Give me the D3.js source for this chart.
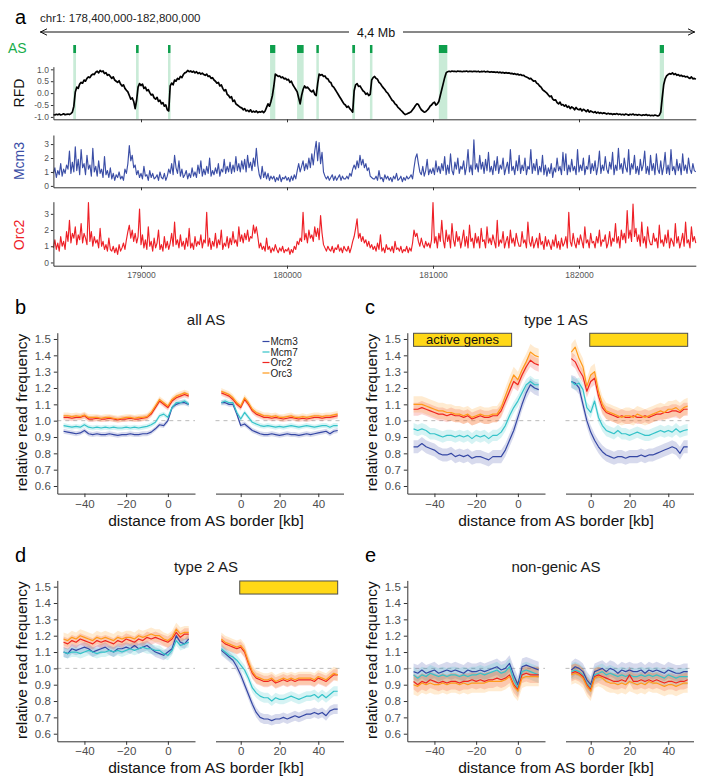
<!DOCTYPE html>
<html><head><meta charset="utf-8">
<script src="https://cdn.jsdelivr.net/npm/d3@7/dist/d3.min.js"></script>
<style>body{margin:0;background:#fff}svg{display:block}</style>
</head><body><svg id="chart" width="702" height="781"></svg>
<script>
// ===================== DATA =====================
// Panel a: genome tracks (kb positions, 10 kb bins starting at 178400 kb)
const trackStartKb = 178400, trackStepKb = 10;
const genomeTicks = [179000, 180000, 181000, 182000];
const asRegions = [[178536,178555],[178966,178984],[179185,179201],[179884,179920],[180069,180114],
  [180201,180217],[180447,180466],[180568,180584],[181040,181098],[182553,182582]];
const rfdTicks = [-1, -0.5, 0, 0.5, 1];
const countTicks = [0, 1, 2, 3];
const rfdTrack = [
-0.90,-0.92,-0.89,-0.91,-0.88,-0.92,-0.90,-0.87,-0.91,-0.89,
-0.88,-0.90,-0.86,-0.80,-0.55,0.05,0.25,0.20,0.38,0.45,
0.42,0.55,0.50,0.62,0.68,0.65,0.75,0.80,0.78,0.88,
0.92,0.85,0.95,0.90,0.93,0.82,0.86,0.75,0.78,0.70,
0.62,0.68,0.55,0.50,0.45,0.52,0.38,0.30,0.35,0.20,
0.12,0.05,-0.10,-0.25,-0.20,-0.35,-0.65,-0.30,0.25,0.40,
0.32,0.38,0.20,0.25,0.10,0.15,0.02,-0.08,-0.05,-0.20,
-0.25,-0.18,-0.35,-0.30,-0.45,-0.40,-0.55,-0.50,-0.70,-0.75,
0.30,0.42,0.35,0.55,0.50,0.62,0.58,0.70,0.65,0.78,
0.85,0.88,0.95,0.90,0.93,0.88,0.92,0.85,0.90,0.82,
0.86,0.80,0.84,0.78,0.75,0.80,0.70,0.72,0.62,0.65,
0.55,0.50,0.42,0.45,0.30,0.35,0.20,0.10,0.15,-0.05,
-0.10,-0.20,-0.15,-0.35,-0.30,-0.45,-0.50,-0.55,-0.60,-0.62,
-0.70,-0.65,-0.75,-0.72,-0.78,-0.70,-0.80,-0.76,-0.80,-0.75,
-0.82,-0.78,-0.80,-0.76,-0.82,-0.75,-0.60,-0.45,-0.55,-0.35,
-0.10,0.30,0.80,0.75,0.70,0.72,0.65,0.68,0.60,0.62,
0.55,0.58,0.45,0.50,0.35,0.25,0.15,0.05,-0.20,-0.45,
-0.10,0.15,0.30,0.22,0.25,0.18,0.10,0.05,0.12,-0.05,
-0.10,0.40,0.80,0.75,0.78,0.70,0.72,0.62,0.60,0.48,
0.45,0.30,0.25,0.15,0.05,-0.05,-0.15,-0.25,-0.35,-0.45,
-0.50,-0.60,-0.55,-0.65,-0.72,-0.80,0.10,0.35,0.40,0.28,
0.30,0.20,0.10,0.05,-0.05,0.00,-0.10,-0.05,0.55,0.65,
0.70,0.62,0.58,0.45,0.40,0.30,0.22,0.15,0.05,0.00,
-0.10,-0.20,-0.30,-0.35,-0.45,-0.50,-0.60,-0.65,-0.72,-0.78,
-0.85,-0.90,-0.88,-0.85,-0.82,-0.78,-0.70,-0.62,-0.52,-0.45,
-0.48,-0.60,-0.70,-0.75,-0.80,-0.78,-0.72,-0.65,-0.55,-0.50,
-0.42,-0.38,-0.50,-0.45,-0.35,-0.10,0.15,0.40,0.65,0.85,
0.90,0.92,0.90,0.93,0.91,0.92,0.90,0.93,0.91,0.92,
0.90,0.92,0.91,0.93,0.90,0.92,0.91,0.90,0.92,0.91,
0.90,0.92,0.89,0.91,0.90,0.92,0.89,0.91,0.90,0.88,
0.90,0.88,0.89,0.87,0.89,0.86,0.88,0.85,0.87,0.84,
0.86,0.84,0.85,0.82,0.83,0.80,0.82,0.78,0.80,0.76,
0.78,0.74,0.75,0.70,0.68,0.65,0.60,0.62,0.55,0.50,
0.52,0.42,0.38,0.30,0.25,0.15,0.10,0.05,0.00,-0.08,
-0.15,-0.12,-0.25,-0.30,-0.28,-0.40,-0.45,-0.38,-0.50,-0.48,
-0.55,-0.50,-0.60,-0.55,-0.65,-0.58,-0.62,-0.70,-0.60,-0.68,
-0.70,-0.65,-0.75,-0.68,-0.72,-0.78,-0.70,-0.80,-0.75,-0.78,
-0.82,-0.78,-0.84,-0.80,-0.85,-0.82,-0.86,-0.83,-0.85,-0.88,
-0.85,-0.88,-0.86,-0.90,-0.87,-0.89,-0.86,-0.90,-0.88,-0.91,
-0.89,-0.92,-0.88,-0.90,-0.93,-0.89,-0.91,-0.88,-0.92,-0.90,
-0.93,-0.90,-0.92,-0.94,-0.91,-0.93,-0.90,-0.94,-0.92,-0.95,
-0.93,-0.95,-0.92,-0.94,-0.96,-0.93,-0.80,-0.20,0.35,0.60,
0.72,0.78,0.82,0.80,0.85,0.78,0.82,0.75,0.78,0.72,
0.75,0.70,0.72,0.68,0.70,0.65,0.62,0.68,0.60,0.62,
0.58];
const mcm3Track = [
0.9,1.3,0.6,1.1,0.8,1.6,0.7,1.2,0.9,1.5,
1.2,2.5,0.9,1.7,1.0,2.8,1.1,1.9,0.8,2.6,
1.3,1.6,0.8,2.2,1.2,1.5,0.7,2.7,1.0,1.4,
0.7,1.8,0.9,1.2,0.6,2.1,0.8,1.1,0.6,1.3,
0.5,0.9,0.4,0.8,0.6,1.0,0.5,0.7,0.4,1.2,
0.9,1.6,2.9,1.8,2.2,1.3,1.5,0.8,1.1,0.6,
0.9,0.5,1.4,0.7,0.8,0.4,1.1,0.6,0.9,0.5,
0.6,0.8,0.4,1.0,0.6,0.5,0.9,0.4,0.7,1.2,
0.9,1.6,0.8,2.2,1.3,0.9,1.8,0.7,1.2,0.6,
0.8,1.1,0.5,0.9,0.6,1.3,0.7,1.0,0.6,1.5,
0.9,1.8,0.7,1.2,0.8,1.4,0.9,2.0,0.7,1.1,
0.8,1.3,0.9,1.6,0.7,1.2,1.0,1.9,0.9,1.4,
1.0,1.7,0.9,1.5,1.0,2.1,1.1,1.6,1.0,1.8,
1.2,1.9,1.0,2.2,1.3,1.7,1.1,2.0,1.4,2.7,
1.5,0.8,0.5,1.4,0.6,1.0,0.5,0.9,0.4,0.7,
0.5,0.7,0.3,0.6,0.4,0.8,0.3,0.6,0.5,0.7,
0.4,0.6,0.3,0.7,0.4,0.8,0.5,1.1,1.6,1.0,
1.4,1.8,1.1,1.6,1.2,2.0,1.3,2.3,1.5,2.5,
3.2,1.8,3.1,1.6,2.4,1.0,0.7,0.5,0.7,0.4,
0.6,0.8,0.4,0.7,0.4,0.6,0.8,0.4,0.7,0.5,
0.5,0.7,0.5,0.9,0.7,1.2,1.5,1.2,1.8,1.3,
2.2,1.5,1.9,1.3,1.6,1.1,1.3,0.7,0.6,0.5,
0.5,0.7,0.4,1.1,0.5,0.6,0.3,0.8,0.5,0.7,
0.4,0.6,0.3,0.7,0.5,0.9,0.4,0.5,0.7,0.3,
0.6,0.4,0.7,0.5,0.6,0.8,0.5,1.3,2.0,2.3,
1.6,1.0,0.8,1.4,0.7,1.1,1.9,0.8,1.2,0.9,
1.3,0.8,1.8,1.0,1.4,0.9,1.6,1.1,2.1,0.8,
1.5,0.9,2.3,1.1,0.8,1.7,1.2,2.0,0.9,1.4,
1.2,1.8,0.8,1.4,2.6,1.0,1.5,0.8,3.3,1.2,
1.6,1.0,2.2,1.2,1.7,0.9,1.9,1.1,2.4,1.0,
1.4,0.8,1.8,1.1,2.1,0.9,1.5,1.2,2.0,0.8,
1.3,1.7,0.9,2.6,1.1,1.4,0.8,1.8,1.1,2.2,
0.9,1.5,1.1,2.0,0.8,1.4,1.2,2.6,0.9,1.6,
1.1,1.9,0.8,1.4,1.0,2.2,0.8,1.5,0.7,1.3,
0.9,1.6,0.6,1.3,1.0,2.0,1.1,1.4,0.8,2.4,
1.1,2.3,0.8,1.5,1.0,1.9,1.1,1.4,0.8,2.6,
1.0,1.5,1.1,2.0,0.8,1.4,1.2,2.2,0.9,1.6,
1.1,1.8,0.8,1.4,2.5,0.9,1.5,1.1,2.1,1.2,
0.9,1.7,1.2,2.4,0.8,1.5,1.1,2.7,1.2,1.6,
0.9,2.0,1.3,1.0,2.6,0.8,1.6,1.2,2.2,0.9,
1.4,0.8,1.9,1.1,1.5,2.5,0.9,1.4,0.8,2.2,
1.1,1.6,0.8,2.3,1.2,0.9,1.8,0.8,1.4,2.4,
0.9,1.5,0.8,2.6,1.1,1.4,0.8,1.9,1.1,1.6,
0.8,2.3,1.1,1.5,0.9,2.0,1.2,0.9,1.6,1.1,
1.0];
const orc2Track = [
0.9,1.4,0.8,1.2,0.7,1.6,1.0,1.3,0.8,1.9,
1.3,2.6,1.2,1.8,1.5,2.2,1.1,1.7,1.4,2.4,
1.2,1.8,1.5,1.1,3.7,1.3,1.9,1.0,1.6,1.2,
1.4,0.9,2.1,1.0,1.3,0.8,1.1,0.7,1.5,0.8,
0.7,1.0,0.6,0.9,0.5,1.1,0.7,0.9,1.2,0.8,
1.4,1.9,2.3,1.5,2.0,1.3,1.8,1.2,1.6,3.3,
1.1,1.7,0.9,1.4,0.8,2.2,1.0,1.3,0.7,1.5,
0.9,1.2,2.0,0.8,1.1,0.7,1.6,0.9,1.3,0.8,
1.2,1.8,1.0,2.5,1.1,1.4,0.9,1.7,1.0,1.3,
0.8,1.5,1.0,2.1,0.9,1.2,0.8,1.6,1.0,1.3,
1.1,1.7,0.9,1.4,1.2,3.1,1.0,1.5,0.8,1.3,
1.0,1.8,0.9,1.4,1.1,2.0,0.8,1.2,1.0,1.6,
0.9,1.5,1.1,1.9,1.2,1.4,1.0,2.2,1.3,1.7,
1.2,1.8,1.4,2.0,1.3,1.6,1.5,2.3,1.8,2.2,
1.6,0.9,1.2,0.8,1.0,0.7,1.5,0.8,1.0,0.6,
0.9,0.7,1.1,0.8,0.6,0.9,0.7,1.0,0.6,0.8,
0.7,0.9,0.5,0.8,0.6,1.0,0.8,1.3,1.1,1.5,
1.3,3.1,1.4,1.8,1.2,2.0,1.5,1.7,1.3,2.2,
1.6,2.1,1.4,2.9,1.8,1.1,0.9,0.7,1.0,0.8,
0.7,1.0,0.6,0.9,0.8,1.1,0.7,0.9,0.6,1.0,
0.8,0.7,1.0,0.6,0.9,1.3,1.6,2.1,2.7,1.5,
1.8,1.3,1.6,1.2,1.4,1.0,1.3,0.9,1.1,0.8,
1.0,0.7,1.2,0.8,1.7,0.7,0.9,0.6,1.1,0.8,
0.9,0.7,1.0,0.6,1.3,0.8,0.9,0.7,1.0,0.6,
0.8,0.7,1.0,0.6,0.9,0.7,1.2,2.0,1.6,1.8,
1.3,1.0,1.5,1.1,0.9,1.3,1.0,1.2,0.9,1.4,
3.7,1.2,1.6,0.9,1.8,1.3,2.6,1.4,0.9,2.0,
1.3,1.7,0.9,2.4,1.4,1.0,1.9,1.3,1.6,0.9,
1.4,2.0,1.0,1.6,0.9,2.3,1.3,1.5,0.9,1.8,
1.2,1.6,0.9,2.1,1.3,1.4,0.9,2.2,1.2,1.5,
1.1,1.7,1.3,0.9,2.6,1.0,1.4,1.2,1.9,0.9,
1.3,1.6,0.9,2.0,1.2,1.5,1.0,1.8,1.3,1.0,
1.0,1.9,1.2,1.4,0.9,2.5,1.3,1.0,1.6,0.9,
1.2,1.5,0.9,1.8,1.1,1.3,0.8,1.6,1.0,1.4,
1.1,0.8,1.4,1.0,1.7,0.9,1.3,0.8,1.5,1.0,
1.2,1.6,0.9,3.1,1.3,1.0,1.8,1.2,0.9,1.5,
1.1,1.7,1.3,0.9,2.2,1.2,1.4,0.9,1.8,1.2,
1.3,0.9,1.6,1.2,2.0,1.0,1.4,1.3,1.7,0.9,
1.2,1.9,1.0,1.5,1.3,2.4,1.2,1.6,0.9,2.0,
1.4,1.8,1.2,3.2,1.5,2.0,1.3,3.6,1.6,2.1,
1.3,1.7,1.0,2.5,1.2,1.6,0.9,2.2,1.4,1.1,
1.1,1.8,1.3,1.5,0.9,2.3,1.2,1.4,1.0,1.7,
1.2,2.0,0.9,1.5,1.3,1.0,2.4,1.2,1.6,0.9,
1.3,1.8,1.0,2.5,1.2,1.4,0.9,2.2,1.3,1.6,
1.2];

// Panels b-e: profiles around AS borders (kb)
const seriesNames = ["Mcm3", "Mcm7", "Orc2", "Orc3"];
const leftKb  = [-50,-48,-46,-44,-42,-40,-38,-36,-34,-32,-30,-28,-26,-24,-22,-20,-18,-16,-14,-12,-10,-8,-6,-4,-2,0,2,4,6,8,10];
const rightKb = [-10,-8,-6,-4,-2,0,2,4,6,8,10,12,14,16,18,20,22,24,26,28,30,32,34,36,38,40,42,44,46,48,50];
const profileYTicks = [0.6,0.7,0.8,0.9,1.0,1.1,1.2,1.3,1.4,1.5];
const leftXTicks = [-40,-20,0], rightXTicks = [0,20,40];

const bL_Mcm3 = [0.935,0.93,0.925,0.92,0.925,0.94,0.92,0.915,0.92,0.915,0.915,0.92,0.915,0.91,0.915,0.915,0.92,0.915,0.915,0.92,0.92,0.93,0.95,0.975,0.97,1.00,1.08,1.10,1.11,1.11,1.10];
const bL_Mcm7 = [0.97,0.965,0.96,0.965,0.96,0.975,0.96,0.955,0.96,0.955,0.96,0.955,0.96,0.955,0.955,0.96,0.955,0.96,0.955,0.96,0.965,0.975,0.99,1.03,1.04,1.02,1.08,1.11,1.11,1.12,1.10];
const bL_Orc2 = [1.02,1.02,1.015,1.02,1.02,1.03,1.01,1.01,1.015,1.01,1.01,1.015,1.01,1.005,1.01,1.01,1.015,1.01,1.01,1.015,1.02,1.04,1.08,1.12,1.10,1.08,1.12,1.14,1.15,1.16,1.15];
const bL_Orc3 = [1.03,1.03,1.025,1.03,1.025,1.035,1.02,1.02,1.02,1.015,1.02,1.02,1.015,1.01,1.015,1.02,1.02,1.015,1.02,1.02,1.025,1.05,1.09,1.13,1.11,1.09,1.13,1.15,1.16,1.17,1.16];
const bR_Mcm3 = [1.11,1.11,1.10,1.10,1.04,0.97,0.98,0.96,0.94,0.93,0.92,0.915,0.915,0.92,0.915,0.91,0.915,0.92,0.915,0.915,0.91,0.915,0.92,0.915,0.92,0.925,0.93,0.935,0.92,0.935,0.94];
const bR_Mcm7 = [1.11,1.12,1.11,1.11,1.05,1.01,1.05,1.02,0.99,0.98,0.97,0.965,0.97,0.965,0.96,0.965,0.96,0.965,0.97,0.965,0.96,0.965,0.97,0.965,0.96,0.965,0.97,0.97,0.96,0.97,0.97];
const bR_Orc2 = [1.17,1.16,1.15,1.13,1.10,1.08,1.13,1.10,1.06,1.04,1.03,1.02,1.02,1.015,1.02,1.015,1.01,1.015,1.02,1.015,1.01,1.015,1.01,1.015,1.02,1.02,1.015,1.02,1.02,1.025,1.03];
const bR_Orc3 = [1.18,1.17,1.16,1.14,1.11,1.09,1.14,1.11,1.07,1.05,1.04,1.03,1.03,1.025,1.03,1.02,1.02,1.025,1.03,1.02,1.02,1.025,1.02,1.025,1.03,1.03,1.025,1.03,1.03,1.035,1.04];

const cL_Mcm3 = [0.84,0.84,0.86,0.84,0.83,0.82,0.80,0.79,0.79,0.80,0.78,0.79,0.78,0.79,0.77,0.78,0.78,0.77,0.76,0.78,0.78,0.78,0.82,0.88,0.94,1.02,1.10,1.17,1.22,1.20,1.19];
const cL_Mcm7 = [0.95,0.94,0.95,0.94,0.92,0.92,0.91,0.90,0.91,0.91,0.90,0.91,0.90,0.91,0.89,0.91,0.90,0.91,0.89,0.91,0.91,0.93,0.97,1.03,1.08,1.12,1.17,1.22,1.24,1.22,1.22];
const cL_Orc2 = [1.07,1.07,1.08,1.07,1.06,1.05,1.04,1.04,1.03,1.04,1.03,1.03,1.02,1.03,1.01,1.02,1.03,1.02,1.02,1.03,1.03,1.06,1.12,1.18,1.24,1.22,1.28,1.33,1.37,1.35,1.34];
const cL_Orc3 = [1.10,1.10,1.10,1.09,1.08,1.07,1.06,1.06,1.05,1.05,1.04,1.04,1.03,1.04,1.02,1.03,1.04,1.03,1.03,1.04,1.04,1.08,1.15,1.22,1.28,1.25,1.31,1.36,1.42,1.40,1.39];
const cR_Mcm3 = [1.24,1.23,1.20,1.10,1.00,0.93,0.88,0.84,0.81,0.79,0.78,0.77,0.78,0.78,0.77,0.78,0.78,0.78,0.79,0.78,0.79,0.79,0.80,0.81,0.82,0.83,0.84,0.83,0.80,0.84,0.84];
const cR_Mcm7 = [1.24,1.22,1.23,1.19,1.08,1.05,1.12,1.02,0.97,0.94,0.93,0.92,0.94,0.92,0.92,0.91,0.92,0.93,0.92,0.91,0.91,0.92,0.93,0.94,0.93,0.94,0.93,0.95,0.93,0.94,0.945];
const cR_Orc2 = [1.38,1.36,1.31,1.27,1.18,1.24,1.26,1.15,1.08,1.05,1.04,1.03,1.02,1.03,1.02,1.02,1.03,1.02,1.02,1.03,1.02,1.03,1.04,1.04,1.05,1.05,1.06,1.06,1.05,1.07,1.07];
const cR_Orc3 = [1.42,1.45,1.38,1.33,1.21,1.28,1.30,1.18,1.10,1.06,1.05,1.04,1.03,1.02,1.03,1.03,1.02,1.04,1.03,1.02,1.03,1.04,1.05,1.06,1.05,1.07,1.07,1.08,1.06,1.08,1.09];

const dL_Mcm3 = [1.10,1.09,1.12,1.11,1.12,1.13,1.12,1.10,1.11,1.12,1.13,1.11,1.10,1.12,1.12,1.13,1.12,1.14,1.12,1.13,1.14,1.12,1.10,1.09,1.08,1.10,1.12,1.20,1.16,1.15,1.18];
const dL_Mcm7 = [1.10,1.09,1.10,1.10,1.09,1.10,1.11,1.10,1.09,1.10,1.10,1.11,1.10,1.11,1.10,1.11,1.12,1.11,1.12,1.13,1.12,1.12,1.11,1.11,1.09,1.08,1.11,1.17,1.14,1.15,1.16];
const dL_Orc2 = [1.16,1.15,1.17,1.16,1.18,1.17,1.16,1.15,1.17,1.16,1.17,1.16,1.15,1.17,1.16,1.18,1.17,1.16,1.18,1.17,1.19,1.18,1.19,1.18,1.17,1.16,1.18,1.22,1.19,1.21,1.21];
const dL_Orc3 = [1.18,1.17,1.19,1.18,1.20,1.19,1.18,1.17,1.19,1.18,1.19,1.18,1.17,1.19,1.18,1.19,1.19,1.18,1.20,1.19,1.20,1.21,1.20,1.20,1.18,1.17,1.19,1.24,1.21,1.22,1.22];
const dR_Mcm3 = [1.11,1.09,1.07,1.05,1.01,0.96,0.90,0.84,0.78,0.73,0.70,0.69,0.69,0.68,0.69,0.69,0.70,0.69,0.70,0.71,0.70,0.71,0.72,0.72,0.73,0.72,0.73,0.71,0.74,0.75,0.75];
const dR_Mcm7 = [1.12,1.10,1.08,1.07,1.05,1.02,0.99,0.94,0.88,0.85,0.83,0.82,0.82,0.80,0.82,0.81,0.81,0.82,0.83,0.82,0.81,0.82,0.83,0.83,0.84,0.82,0.84,0.82,0.84,0.86,0.86];
const dR_Orc2 = [1.17,1.15,1.14,1.13,1.12,1.13,1.10,1.03,0.97,0.94,0.93,0.92,0.92,0.93,0.91,0.92,0.93,0.92,0.93,0.92,0.93,0.93,0.93,0.93,0.92,0.94,0.93,0.92,0.94,0.96,0.96];
const dR_Orc3 = [1.18,1.16,1.15,1.14,1.13,1.14,1.11,1.04,0.98,0.95,0.94,0.93,0.93,0.94,0.92,0.93,0.94,0.93,0.94,0.93,0.94,0.94,0.94,0.94,0.93,0.95,0.94,0.93,0.95,0.97,0.96];

const eL_Mcm3 = [0.98,0.97,0.99,0.97,0.98,0.99,0.97,0.98,0.99,0.98,0.99,0.98,0.97,0.99,0.98,0.98,0.99,0.98,0.99,1.00,1.01,0.99,1.00,1.03,0.96,0.90,1.01,1.02,1.01,1.00,0.99];
const eL_Mcm7 = [0.96,0.94,0.96,0.95,0.97,0.96,0.95,0.96,0.95,0.96,0.96,0.95,0.96,0.95,0.96,0.96,0.97,0.96,0.97,0.98,0.99,0.97,0.98,1.01,0.93,0.88,0.98,0.99,0.98,0.97,0.96];
const eL_Orc2 = [0.92,0.90,0.92,0.91,0.93,0.92,0.91,0.92,0.91,0.92,0.92,0.91,0.92,0.92,0.93,0.92,0.93,0.92,0.93,0.93,0.94,0.93,0.94,0.96,0.90,0.87,0.96,0.97,0.96,0.96,0.96];
const eL_Orc3 = [0.90,0.89,0.91,0.90,0.91,0.90,0.90,0.91,0.90,0.91,0.91,0.90,0.91,0.90,0.91,0.91,0.91,0.91,0.92,0.92,0.92,0.92,0.93,0.95,0.89,0.86,0.94,0.95,0.95,0.95,0.95];
const eR_Mcm3 = [0.99,1.01,1.00,0.98,0.93,0.90,0.98,0.99,1.00,0.98,1.00,0.99,0.97,0.99,0.98,0.99,0.98,0.98,0.99,0.97,0.99,0.98,0.99,0.98,0.97,0.99,0.98,0.97,0.97,0.98,0.98];
const eR_Mcm7 = [0.98,0.99,0.98,0.96,0.91,0.88,0.96,0.97,0.98,0.96,0.97,0.96,0.95,0.96,0.95,0.96,0.95,0.95,0.96,0.95,0.96,0.95,0.96,0.95,0.94,0.96,0.95,0.94,0.95,0.95,0.95];
const eR_Orc2 = [0.97,0.98,0.97,0.95,0.90,0.87,0.95,0.96,0.95,0.94,0.93,0.92,0.92,0.93,0.92,0.96,0.92,0.92,0.93,0.92,0.93,0.92,0.93,0.92,0.91,0.92,0.92,0.91,0.92,0.92,0.93];
const eR_Orc3 = [0.96,0.97,0.96,0.94,0.89,0.86,0.94,0.95,0.94,0.92,0.91,0.91,0.90,0.91,0.90,0.92,0.91,0.90,0.91,0.90,0.92,0.91,0.91,0.90,0.89,0.90,0.90,0.89,0.90,0.91,0.91];

// ribbon half-widths (standard error) per series
const seB = [0.015,0.015,0.018,0.02];
const seC = [0.04,0.035,0.04,0.05];
const seD = [0.03,0.03,0.035,0.04];
const seE = [0.05,0.05,0.05,0.06];
// active gene boxes: [side (0 left, 1 right), fromKb, toKb, label]
const genesC = [[0,-50,-3,"active genes"],[1,-0.5,50,""]];
const genesD = [[1,-0.5,50,""]];
const geneBoxY = [1.455, 1.535];

// ===================== DRAW =====================
const FONT = "Arial, 'Liberation Sans', Helvetica, sans-serif";
const svg = d3.select("#chart").style("font-family", FONT);
const seriesColors = ["#3547A4", "#34C3C9", "#EF2620", "#FF9A1A"];

function styleAxis(g, fs, col) {
  g.attr("font-family", null).attr("font-size", null);
  g.select(".domain").attr("stroke", "#333").attr("stroke-width", 1);
  g.selectAll(".tick line").attr("stroke", "#333");
  g.selectAll(".tick text").attr("fill", col || "#4D4D4D").style("font-size", fs + "px").style("font-family", FONT);
}

// ---------- Panel a ----------
svg.append("text").attr("x", 15).attr("y", 24).style("font-size", "20px").text("a");
svg.append("text").attr("x", 40).attr("y", 22).style("font-size", "11.5px").attr("fill", "#222").text("chr1: 178,400,000-182,800,000");
// span arrow
svg.append("line").attr("x1", 40).attr("x2", 695).attr("y1", 32).attr("y2", 32).attr("stroke", "#111").attr("stroke-width", 1);
svg.append("path").attr("d", "M47,28.8L40.5,32L47,35.2").attr("fill", "none").attr("stroke", "#111").attr("stroke-width", 1);
svg.append("path").attr("d", "M688,28.8L694.5,32L688,35.2").attr("fill", "none").attr("stroke", "#111").attr("stroke-width", 1);
svg.append("rect").attr("x", 349).attr("y", 25).attr("width", 54).attr("height", 14).attr("fill", "#fff");
svg.append("text").attr("x", 376).attr("y", 36.5).attr("text-anchor", "middle").style("font-size", "12.5px").attr("fill", "#111").text("4,4 Mb");

const gx = d3.scaleLinear().domain([178400, 182800]).range([53.4, 695.8]);
const posKb = i => trackStartKb + i * trackStepKb;

svg.append("text").attr("x", 8).attr("y", 52.5).style("font-size", "14px").attr("fill", "#17AD4B").text("AS");
svg.append("g").selectAll("rect").data(asRegions).join("rect")
  .attr("x", d => gx(d[0])).attr("width", d => Math.max(2.5, gx(d[1]) - gx(d[0])))
  .attr("y", 53).attr("height", 66).attr("fill", "#C9EBD7");
svg.append("g").selectAll("rect").data(asRegions).join("rect")
  .attr("x", d => gx(d[0])).attr("width", d => Math.max(2.5, gx(d[1]) - gx(d[0])))
  .attr("y", 45).attr("height", 8).attr("fill", "#0E9F4C");

function track(values, yDomain, yRange, yTicks, fmt, color, label, labelColor, labelY, showX, lw) {
  const y = d3.scaleLinear().domain(yDomain).range(yRange);
  svg.append("path").datum(values)
    .attr("d", d3.line().x((d, i) => gx(posKb(i))).y(d => y(d)))
    .attr("fill", "none").attr("stroke", color).attr("stroke-width", lw).attr("stroke-linejoin", "round");
  const ya = svg.append("g").attr("transform", `translate(${gx.range()[0]},0)`)
    .call(d3.axisLeft(y).tickValues(yTicks).tickFormat(fmt).tickSize(2.5).tickSizeOuter(0).tickPadding(2));
  styleAxis(ya, 8.5, "#555");
  const xa = svg.append("g").attr("transform", `translate(0,${yRange[0]})`)
    .call(d3.axisBottom(gx).tickValues(genomeTicks).tickFormat(showX ? d3.format("d") : "").tickSize(3).tickSizeOuter(0).tickPadding(3));
  styleAxis(xa, 8.5, "#555");
  svg.append("text").attr("transform", `translate(19,${labelY}) rotate(-90)`).attr("text-anchor", "middle")
    .attr("dy", "0.35em").style("font-size", "14px").attr("fill", labelColor).text(label);
}
track(rfdTrack, [-1.1, 1.11], [119.3, 66.7], rfdTicks, d => d.toFixed(1), "#000", "RFD", "#111", 93, false, 1.7);
track(mcm3Track, [-0.1, 3.65], [187.3, 135], countTicks, d3.format("d"), "#3B4EA6", "Mcm3", "#3B4EA6", 161, false, 1.15);
track(orc2Track, [-0.2, 3.75], [265.7, 201.7], countTicks, d3.format("d"), "#EE2027", "Orc2", "#EE2027", 235, true, 1.15);

// ---------- Panels b-e ----------
const panels = [
  {letter: "b", title: "all AS", ox: 0, oy: 0, L: [bL_Mcm3, bL_Mcm7, bL_Orc2, bL_Orc3], R: [bR_Mcm3, bR_Mcm7, bR_Orc2, bR_Orc3], se: seB, genes: [], legend: true},
  {letter: "c", title: "type 1 AS", ox: 350, oy: 0, L: [cL_Mcm3, cL_Mcm7, cL_Orc2, cL_Orc3], R: [cR_Mcm3, cR_Mcm7, cR_Orc2, cR_Orc3], se: seC, genes: genesC, legend: false},
  {letter: "d", title: "type 2 AS", ox: 0, oy: 247.7, L: [dL_Mcm3, dL_Mcm7, dL_Orc2, dL_Orc3], R: [dR_Mcm3, dR_Mcm7, dR_Orc2, dR_Orc3], se: seD, genes: genesD, legend: false},
  {letter: "e", title: "non-genic AS", ox: 350, oy: 247.7, L: [eL_Mcm3, eL_Mcm7, eL_Orc2, eL_Orc3], R: [eR_Mcm3, eR_Mcm7, eR_Orc2, eR_Orc3], se: seE, genes: [], legend: false}
];

panels.forEach(p => {
  const g = svg.append("g");
  const ox = p.ox, oy = p.oy;
  const y = d3.scaleLinear().domain([0.5535, 1.5385]).range([oy + 493.6, oy + 332.7]);
  const sides = [
    {x: d3.scaleLinear().domain([-53, 13]).range([ox + 57.3, ox + 195]), kb: leftKb, vals: p.L, ticks: leftXTicks},
    {x: d3.scaleLinear().domain([-13, 53]).range([ox + 215.5, ox + 343.5]), kb: rightKb, vals: p.R, ticks: rightXTicks}
  ];
  g.append("text").attr("x", ox + 15).attr("y", oy + 314).style("font-size", "20px").text(p.letter);
  g.append("text").attr("x", ox + 206).attr("y", oy + 324.5).attr("text-anchor", "middle").style("font-size", "15px").attr("fill", "#1a1a1a").text(p.title);

  sides.forEach((s, si) => {
    const [x0, x1] = s.x.range();
    g.append("line").attr("x1", x0).attr("x2", x1).attr("y1", y(1)).attr("y2", y(1))
      .attr("stroke", "#BBBBBB").attr("stroke-width", 1).attr("stroke-dasharray", "4,4");
    p.genes.filter(b => b[0] === si).forEach(b => {
      g.append("rect").attr("x", s.x(b[1])).attr("width", s.x(b[2]) - s.x(b[1]))
        .attr("y", y(geneBoxY[1])).attr("height", y(geneBoxY[0]) - y(geneBoxY[1]))
        .attr("fill", "#FFD817").attr("stroke", "#4D4D4D").attr("stroke-width", 1);
      if (b[3]) g.append("text").attr("x", (s.x(b[1]) + s.x(b[2])) / 2).attr("y", y((geneBoxY[0] + geneBoxY[1]) / 2))
        .attr("dy", "0.35em").attr("text-anchor", "middle").style("font-size", "13px").attr("fill", "#111").text(b[3]);
    });
    s.vals.forEach((vals, k) => {
      const hw = p.se[k];
      g.append("path").datum(vals)
        .attr("d", d3.area().x((d, i) => s.x(s.kb[i])).y0(d => y(d - hw)).y1(d => y(d + hw)))
        .attr("fill", seriesColors[k]).attr("fill-opacity", 0.2).attr("stroke", "none");
    });
    s.vals.forEach((vals, k) => {
      g.append("path").datum(vals)
        .attr("d", d3.line().x((d, i) => s.x(s.kb[i])).y(d => y(d)))
        .attr("fill", "none").attr("stroke", seriesColors[k]).attr("stroke-width", 1.2).attr("stroke-linejoin", "round");
    });
    const xa = g.append("g").attr("transform", `translate(0,${oy + 493.6})`)
      .call(d3.axisBottom(s.x).tickValues(s.ticks).tickFormat(d3.format("d")).tickSize(3.5).tickSizeOuter(0).tickPadding(2.5));
    styleAxis(xa, 11.5);
  });
  const ya = g.append("g").attr("transform", `translate(${ox + 57.3},0)`)
    .call(d3.axisLeft(y).tickValues(profileYTicks).tickFormat(d3.format(".1f")).tickSize(3.5).tickSizeOuter(0).tickPadding(3));
  styleAxis(ya, 11.5);
  g.append("text").attr("transform", `translate(${ox + 22},${oy + 412.5}) rotate(-90)`).attr("text-anchor", "middle")
    .attr("dy", "0.35em").style("font-size", "15.5px").attr("fill", "#111").text("relative read frequency");
  g.append("text").attr("x", ox + 206).attr("y", oy + 525.5).attr("text-anchor", "middle")
    .style("font-size", "15.5px").attr("fill", "#111").text("distance from AS border [kb]");

  if (p.legend) {
    seriesNames.forEach((nm, k) => {
      const ly = oy + 341.5 + k * 10.5;
      g.append("line").attr("x1", ox + 262.5).attr("x2", ox + 269.5).attr("y1", ly).attr("y2", ly)
        .attr("stroke", seriesColors[k]).attr("stroke-width", 1.2);
      g.append("text").attr("x", ox + 270.5).attr("y", ly).attr("dy", "0.35em")
        .style("font-size", "10px").attr("fill", "#222").text(nm);
    });
  }
});
</script></body></html>
